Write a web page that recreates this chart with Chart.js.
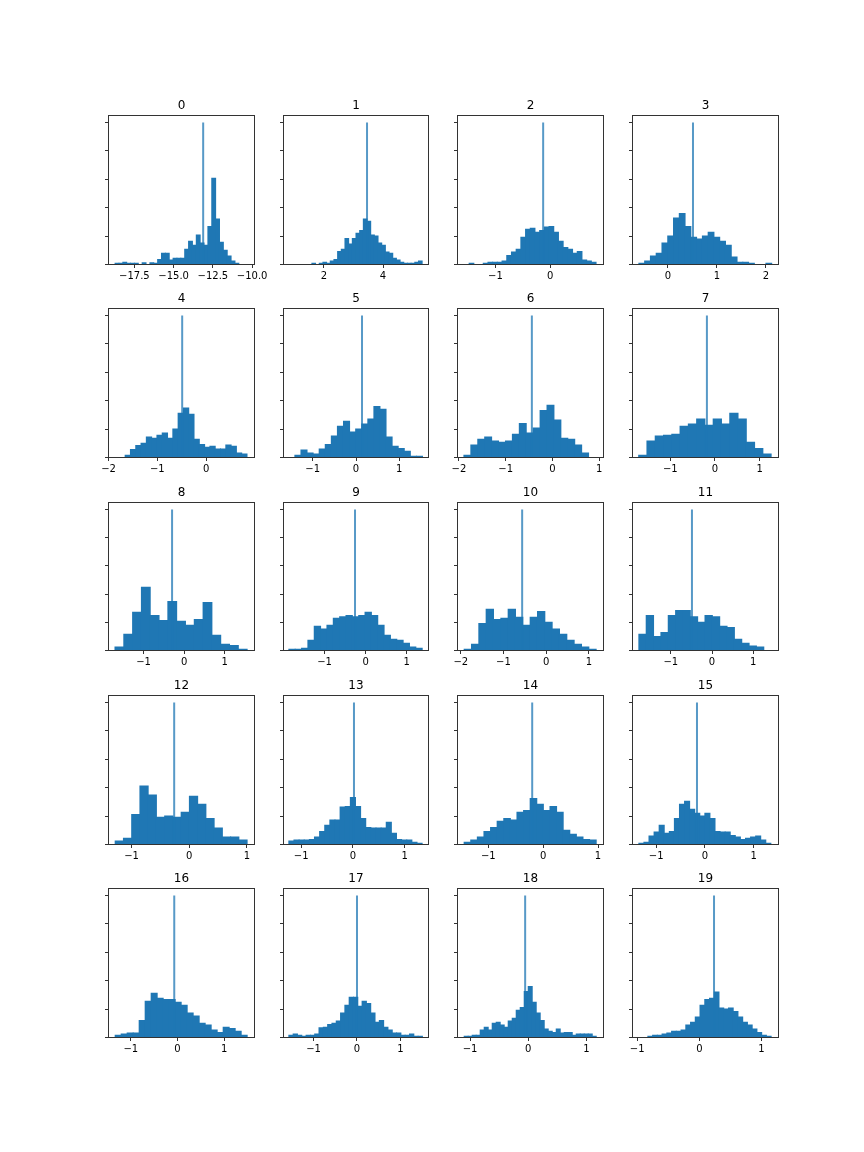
<!DOCTYPE html>
<html lang="en">
<head>
  <meta charset="UTF-8">
  <title>Histograms</title>
  <style>
    body {
      margin: 0;
      background: #fff;
    }

    #page {
      position: relative;
      width: 864px;
      height: 1152px;
      overflow: hidden;
    }

    canvas {
      position: absolute;
    }
  </style>
  <script src="https://cdn.jsdelivr.net/npm/chart.js"></script>
</head>
<body>

  <div id="page"></div>

  <script>
    const titles = ['0', '1', '2', '3', '4', '5', '6', '7', '8', '9', '10', '11', '12', '13', '14', '15', '16', '17', '18', '19'];

    // left edge of the first bin and bin width of each panel
    const binStart = [-18.73, 1.593, -1.482, -0.594, -1.659, -1.413, -1.893, -1.708, -1.704, -1.87, -1.922, -1.773, -1.283, -1.239, -1.441, -1.356, -1.336, -1.569, -1.1, -0.828];
    const binWidth = [0.2463, 0.1243, 0.086, 0.118, 0.1085, 0.1405, 0.148, 0.1854, 0.2173, 0.1545, 0.1719, 0.1781, 0.143, 0.099, 0.1204, 0.1041, 0.1286, 0.0992, 0.0688, 0.0763];

    const counts = [
      [2, 2, 4, 2, 2, 2, 0, 3, 0, 3, 2, 9, 20, 20, 8, 11, 11, 11, 27, 41, 34, 52, 38, 34, 67, 152, 80, 39, 25, 15, 6, 2],
      [2, 0, 2, 4, 2, 6, 9, 23, 27, 46, 36, 46, 55, 60, 80, 76, 52, 50, 38, 34, 22, 20, 11, 8, 4, 2, 2, 2, 4, 6],
      [2, 0, 0, 2, 4, 4, 4, 6, 16, 22, 27, 48, 62, 64, 57, 60, 66, 67, 57, 41, 30, 27, 20, 23, 8, 6, 4],
      [2, 6, 15, 20, 38, 50, 82, 90, 67, 48, 45, 50, 57, 48, 41, 34, 13, 4, 4, 2, 0, 0, 2],
      [4, 14, 21, 25, 36, 34, 39, 43, 34, 50, 78, 87, 76, 32, 23, 18, 20, 15, 15, 22, 20, 8, 6],
      [4, 13, 8, 6, 15, 23, 38, 55, 64, 45, 50, 59, 68, 90, 85, 36, 20, 16, 11, 2, 2],
      [4, 22, 32, 36, 29, 27, 29, 41, 60, 43, 52, 83, 92, 66, 34, 32, 22, 8],
      [4, 29, 38, 39, 41, 55, 59, 68, 57, 68, 59, 78, 68, 27, 16, 6],
      [6, 29, 68, 112, 62, 53, 87, 52, 45, 55, 85, 27, 11, 9, 2],
      [2, 2, 4, 18, 43, 38, 45, 57, 60, 62, 60, 62, 68, 62, 45, 27, 20, 18, 13, 6, 4],
      [2, 11, 48, 73, 55, 57, 73, 59, 45, 59, 69, 50, 38, 29, 18, 11, 6, 2],
      [29, 62, 25, 32, 62, 71, 71, 60, 50, 62, 60, 43, 41, 20, 13, 8, 6],
      [6, 11, 53, 103, 87, 48, 50, 48, 57, 85, 71, 46, 29, 13, 13, 8],
      [6, 8, 8, 8, 9, 13, 23, 34, 43, 43, 66, 67, 83, 67, 46, 30, 29, 29, 29, 39, 20, 9, 8, 8, 4, 2],
      [4, 8, 13, 23, 30, 41, 46, 43, 57, 60, 81, 71, 60, 67, 57, 25, 18, 13, 9, 8],
      [2, 4, 15, 22, 34, 20, 23, 46, 71, 76, 62, 55, 50, 55, 46, 23, 22, 22, 16, 13, 9, 11, 13, 15, 8, 2],
      [4, 6, 8, 8, 30, 64, 78, 69, 67, 67, 62, 57, 43, 38, 25, 22, 13, 9, 18, 16, 11, 4],
      [4, 6, 4, 2, 4, 4, 6, 17, 18, 23, 25, 29, 43, 57, 71, 71, 55, 64, 60, 43, 27, 30, 18, 13, 8, 8, 4, 4, 6, 2, 2],
      [2, 2, 4, 4, 13, 18, 13, 25, 27, 22, 18, 29, 34, 48, 53, 81, 90, 62, 43, 30, 15, 11, 9, 15, 8, 9, 9, 4, 6, 6, 6, 6, 2],
      [2, 4, 4, 6, 8, 11, 11, 13, 22, 27, 36, 57, 67, 69, 80, 52, 50, 52, 46, 36, 27, 22, 15, 9, 4, 2]
    ];

    // the tall narrow bin of each panel
    const spikeX = [-13.12, 3.458, -0.128, 0.512, -0.491, 0.139, -0.441, -0.18, -0.296, -0.26, -0.5625, -0.486, -0.26, 0.019, -0.2, -0.164, -0.07, 0, -0.052, 0.2366];
    const spikeCount = 250;

    const xMin = [-19.15, 0.633, -1.695, -0.724, -2, -1.676, -2.03, -1.846, -1.864, -2, -2.078, -1.927, -1.399, -1.342, -1.562, -1.486, -1.479, -1.692, -1.215, -1.075];
    const xMax = [-9.85, 5.537, 0.976, 2.259, 0.99, 1.676, 1.09, 1.423, 1.737, 1.528, 1.344, 1.611, 1.133, 1.458, 1.1, 1.507, 1.65, 1.646, 1.295, 1.274];

    const xTicks = [
      [-17.5, -15, -12.5, -10], [2, 4], [-1, 0], [0, 1, 2],
      [-2, -1, 0], [-1, 0, 1], [-2, -1, 0, 1], [-1, 0, 1],
      [-1, 0, 1], [-1, 0, 1], [-2, -1, 0, 1], [-1, 0, 1],
      [-1, 0, 1], [-1, 0, 1], [-1, 0, 1], [-1, 0, 1],
      [-1, 0, 1], [-1, 0, 1], [-1, 0, 1], [-1, 0, 1]
    ];
    const yTicks = [0, 50, 100, 150, 200, 250];
    const yMax = 262.5;

    // axes positions of the 5x4 grid, in page pixels (half pixels keep the frame crisp)
    const colLeft = [108.5, 283.5, 457.5, 632.5];
    const colWidth = [146, 145, 146, 146];
    const rowTop = [115.5, 308.5, 502.5, 695.5, 888.5];
    const rowHeight = [149, 149, 148, 149, 149];

    const BLUE = '#1f77b4';
    const SPIKE = 'rgba(31, 119, 180, 0.75)';
    const LINE = '#333';
    const FONT = "'DejaVu Sans', sans-serif";

    // box around the axes
    const frame = {
      id: 'frame',
      afterDraw(chart) {
        const { left, top, right, bottom } = chart.chartArea;
        const c = chart.ctx;
        c.save();
        c.strokeStyle = LINE;
        c.lineWidth = 1;
        c.strokeRect(left, top, right - left, bottom - top);
        c.restore();
      }
    };

    function tickText(v) {
      // the first panel has fractional ticks, there −15.0 and −10.0 keep the .0
      const s = Math.abs(v) >= 10 ? Math.abs(v).toFixed(1) : Math.abs(v).toString();
      return (v < 0 ? '\u2212' : '') + s;
    }

    const page = document.getElementById('page');

    titles.forEach((title, i) => {
      const L = colLeft[i % 4];
      const W = colWidth[i % 4];
      const T = rowTop[Math.floor(i / 4)];
      const H = rowHeight[Math.floor(i / 4)];

      const canvas = document.createElement('canvas');
      const cx = Math.floor(L) - 25;
      const cy = Math.floor(T) - 25;
      const cw = W + 55;
      const ch = H + 52;
      canvas.width = cw;
      canvas.height = ch;
      canvas.style.left = cx + 'px';
      canvas.style.top = cy + 'px';
      page.appendChild(canvas);

      const bars = [];
      counts[i].forEach((n, k) => {
        if (n > 0) bars.push({ x: binStart[i] + (k + 0.5) * binWidth[i], y: n });
      });

      new Chart(canvas.getContext('2d'), {
        data: {
          datasets: [
            {
              type: 'bar',
              data: bars,
              backgroundColor: BLUE,
              borderWidth: 0,
              barPercentage: 1,
              categoryPercentage: 1,
              inflateAmount: 0.5,
              order: 2
            },
            {
              type: 'line',
              data: [{ x: spikeX[i], y: 0 }, { x: spikeX[i], y: spikeCount }],
              borderColor: SPIKE,
              borderWidth: 2,
              borderCapStyle: 'butt',
              pointRadius: 0,
              order: 1
            }
          ]
        },
        options: {
          responsive: false,
          animation: false,
          devicePixelRatio: 1,
          layout: {
            padding: {
              left: L - cx - 25,
              top: T - cy - 25,
              right: cw - (L - cx) - W,
              bottom: ch - (T - cy) - H - 25
            }
          },
          plugins: {
            legend: { display: false },
            tooltip: { enabled: false },
            title: {
              display: true,
              text: title,
              color: '#000',
              fullSize: false,
              font: { family: FONT, size: 12, weight: 'normal', lineHeight: 1.2 },
              padding: { top: 8.6, bottom: 2 }
            }
          },
          scales: {
            x: {
              type: 'linear',
              min: xMin[i],
              max: xMax[i],
              offset: false,
              border: { display: false },
              grid: { offset: false, drawOnChartArea: false, color: LINE, lineWidth: 1, tickLength: 3.5 },
              ticks: {
                color: '#000',
                padding: 2,
                maxRotation: 0,
                autoSkip: false,
                font: { family: FONT, size: 10 },
                callback: tickText
              },
              afterBuildTicks(axis) {
                axis.ticks = xTicks[i].map(v => ({ value: v }));
              },
              afterFit(axis) {
                axis.height = 25;
              }
            },
            y: {
              type: 'linear',
              min: 0,
              max: yMax,
              border: { display: false },
              grid: { drawOnChartArea: false, color: LINE, lineWidth: 1, tickLength: 3.5 },
              ticks: { display: false },
              afterBuildTicks(axis) {
                axis.ticks = yTicks.map(v => ({ value: v }));
              },
              afterFit(axis) {
                axis.width = 25;
              }
            }
          }
        },
        plugins: [frame]
      });
    });
  </script>

</body>
</html>
